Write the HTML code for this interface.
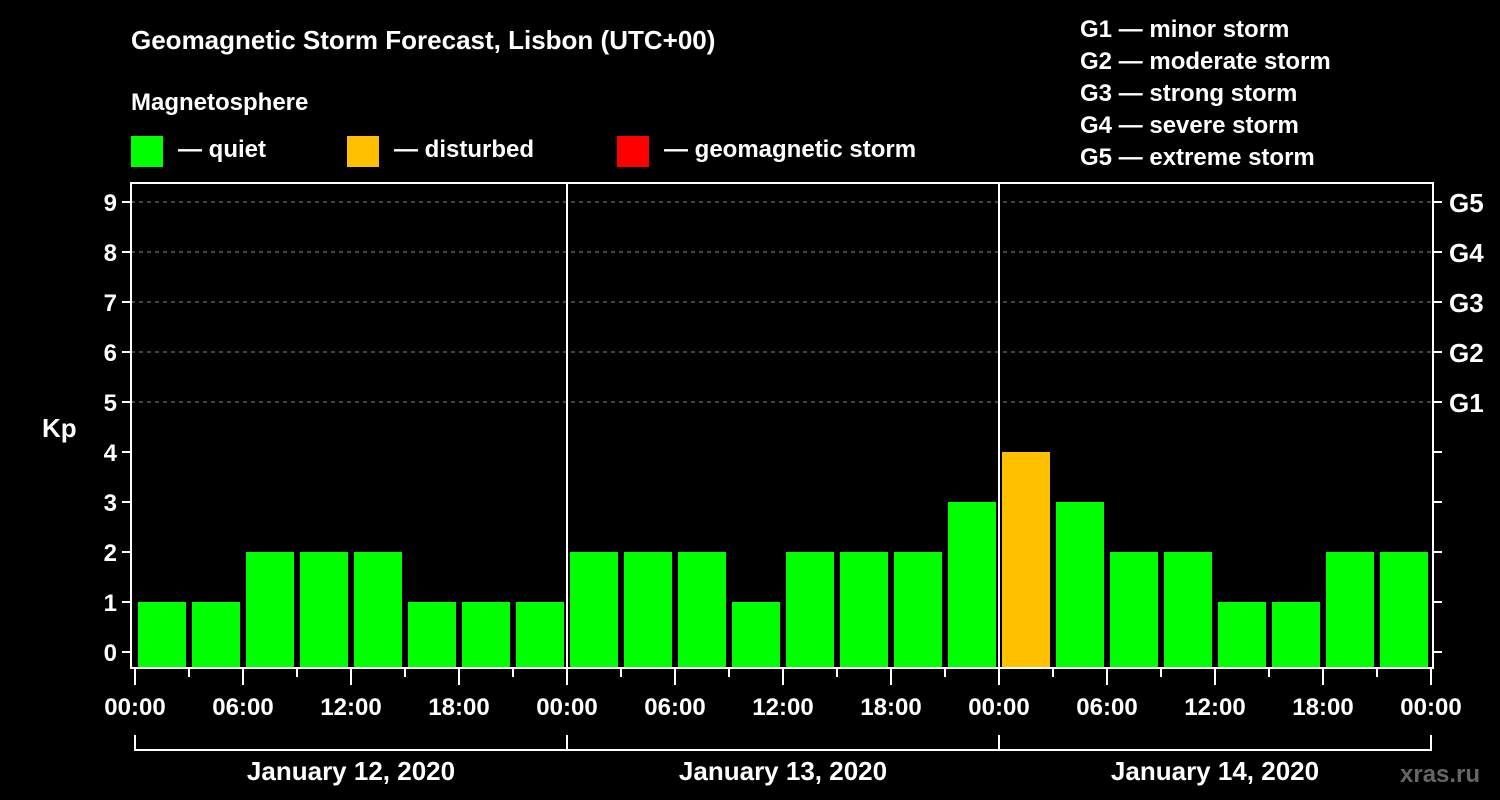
<!DOCTYPE html>
<html><head><meta charset="utf-8"><style>
body{margin:0;background:#000;width:1500px;height:800px;overflow:hidden}
svg{display:block}
text{font-family:"Liberation Sans",sans-serif;font-weight:bold;fill:#fff}
</style></head><body>
<svg id="c" width="1500" height="800">
<text x="131" y="49" font-size="26">Geomagnetic Storm Forecast, Lisbon (UTC+00)</text>
<text x="131" y="110" font-size="24">Magnetosphere</text>
<g><rect x="131" y="136" width="32" height="31" fill="#00ff00"/><text x="178" y="157" font-size="24">— quiet</text></g>
<g><rect x="347" y="136" width="32" height="31" fill="#ffc000"/><text x="394" y="157" font-size="24">— disturbed</text></g>
<g><rect x="617" y="136" width="32" height="31" fill="#ff0000"/><text x="664" y="157" font-size="24">— geomagnetic storm</text></g>
<g font-size="24">
<text x="1080" y="37">G1 — minor storm</text><text x="1080" y="69">G2 — moderate storm</text><text x="1080" y="101">G3 — strong storm</text><text x="1080" y="133">G4 — severe storm</text><text x="1080" y="165">G5 — extreme storm</text></g>
<text x="42" y="437" font-size="26">Kp</text>
<text x="1400" y="782" font-size="24" fill="#666" style="fill:#666">xras.ru</text>
<g id="g"></g>
</svg>
<script>
const kpValues=[1,1,2,2,2,1,1,1, 2,2,2,1,2,2,2,3, 4,3,2,2,1,1,2,2];
const dayLabels=["January 12, 2020","January 13, 2020","January 14, 2020"];
const hourLabels=["00:00","06:00","12:00","18:00"];
const yTicks=[0,1,2,3,4,5,6,7,8,9];
const gLabels=["G1","G2","G3","G4","G5"];
const NS="http://www.w3.org/2000/svg",g=document.getElementById('g');
const X0=135,SLOT=54,TOP=183,BOT=668,L=131,R=1433;
const x=i=>X0+i*SLOT, y=v=>652-v*50;
function mk(t,a,txt){const e=document.createElementNS(NS,t);for(const k in a)e.setAttribute(k,a[k]);if(txt!=null)e.textContent=txt;g.appendChild(e);return e;}
yTicks.forEach(v=>{
 if(v>=5){const l=mk('line',{x1:L,x2:R,y1:y(v),y2:y(v),stroke:'#888','stroke-dasharray':'4,4','stroke-width':1});
 
 }
 mk('line',{x1:L-9,x2:L,y1:y(v),y2:y(v),stroke:'#fff','stroke-width':2});
 mk('line',{x1:R,x2:R+9,y1:y(v),y2:y(v),stroke:'#fff','stroke-width':2});
 const t=mk('text',{x:L-14,y:y(v)+9,'font-size':24,'text-anchor':'end'},v);
 
 
});
gLabels.forEach((s,i)=>{const t=mk('text',{x:1449,y:y(5+i)+10,'font-size':26},s);
 
 });
kpValues.forEach((v,i)=>{
 const col=v>=5?'#ff0000':v>=4?'#ffc000':'#00ff00';
 const r=mk('rect',{x:x(i)+3,y:y(v),width:48,height:BOT-y(v),fill:col});
 
 
});
mk('rect',{x:L,y:TOP,width:R-L,height:BOT-TOP,fill:'none',stroke:'#fff','stroke-width':2});
for(let d=1;d<3;d++)mk('line',{x1:x(d*8),x2:x(d*8),y1:TOP,y2:BOT+17,stroke:'#fff','stroke-width':2});
for(let i=0;i<=24;i++){
 const major=i%2==0;
 mk('line',{x1:x(i),x2:x(i),y1:BOT,y2:BOT+(major?17:9),stroke:'#fff','stroke-width':2});
 if(major){const t=mk('text',{x:x(i),y:715,'font-size':24,'text-anchor':'middle'},hourLabels[(i/2)%4]);
 
 }
}
dayLabels.forEach((s,d)=>{
 mk('path',{d:`M${x(d*8)},735V750H${x(d*8+8)}V735`,stroke:'#fff','stroke-width':2,fill:'none'});
 const t=mk('text',{x:x(d*8+4),y:780,'font-size':26,'text-anchor':'middle'},s);
 
 
});
</script>
</body></html>
